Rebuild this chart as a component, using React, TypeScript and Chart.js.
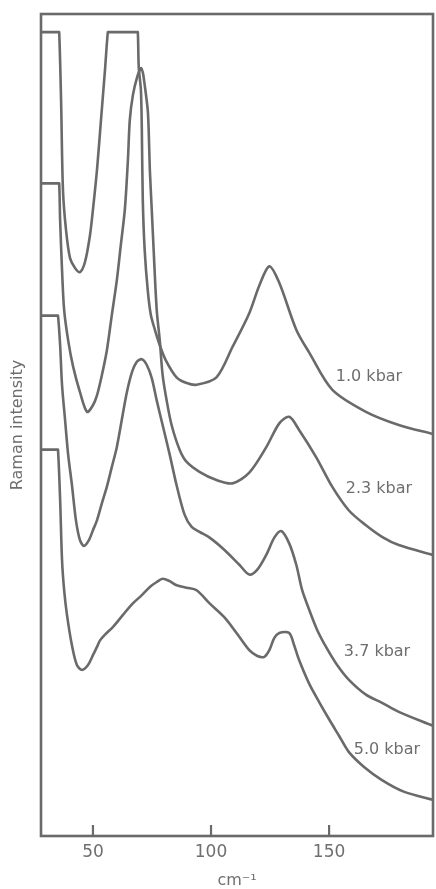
import React, { useEffect, useRef } from "react";
import { Chart, registerables } from "chart.js";

Chart.register(...registerables);

// ---- data (wavenumber in cm^-1, Raman intensity in arbitrary units) ----
const wn1 = [28, 35.3, 35.7, 36.5, 37.3, 38.6, 40.3, 42.4, 44.5, 46.6, 48.7, 50.0, 51.7, 53.4, 55.1, 56.3, 56.7, 68.6, 69.0, 69.4, 70.3, 70.7, 71.1, 71.9, 73.2, 74.5, 76.2, 78.3, 80.8, 85.4, 89.7, 93.9, 102.3, 109.1, 116.2, 120.5, 124.7, 128.9, 136.1, 141.6, 151.3, 165.6, 179.5, 194];
const int1 = [97.8, 97.8, 97.8, 89.5, 78.6, 73.7, 70.3, 69.1, 68.6, 69.8, 73.0, 76.2, 81.0, 87.1, 93.2, 97.8, 97.8, 97.8, 97.8, 93.5, 90.8, 85.9, 77.4, 71.3, 66.4, 63.4, 61.6, 59.7, 57.9, 55.8, 55.1, 54.9, 55.8, 59.5, 63.6, 67.0, 69.3, 67.3, 61.6, 58.8, 54.3, 51.6, 50.0, 48.9];

const wn2 = [28, 35.3, 35.7, 36.1, 36.9, 37.8, 39.5, 41.6, 44.5, 47.5, 50.0, 51.7, 53.8, 55.9, 58.0, 60.1, 61.8, 63.5, 64.8, 65.6, 66.9, 68.6, 70.3, 71.1, 71.9, 73.2, 73.6, 74.1, 74.9, 75.7, 77.0, 78.3, 79.5, 81.2, 83.3, 86.7, 89.7, 95.1, 102.3, 109.1, 116.2, 123.4, 128.9, 133.1, 137.3, 144.5, 151.3, 158.4, 165.6, 172.4, 179.5, 194];
const int2 = [79.4, 79.4, 79.4, 74.9, 68.9, 64.0, 60.3, 57.1, 54.0, 51.6, 52.4, 53.6, 56.1, 59.1, 63.4, 67.6, 71.9, 76.2, 82.2, 87.1, 90.1, 92.2, 93.4, 92.9, 91.4, 88.3, 85.9, 81.0, 76.2, 71.3, 64.0, 60.3, 56.1, 53.0, 50.0, 47.0, 45.5, 44.3, 43.3, 42.9, 44.2, 47.3, 50.2, 51.0, 49.4, 46.1, 42.5, 39.6, 37.8, 36.4, 35.4, 34.2];

const wn3 = [28, 34.8, 35.2, 36.1, 36.9, 38.2, 39.5, 41.1, 42.8, 44.5, 46.2, 48.3, 50.0, 51.7, 53.8, 55.9, 58.0, 60.1, 62.2, 64.3, 66.5, 68.6, 70.7, 72.8, 74.9, 77.0, 79.5, 82.5, 85.4, 88.8, 91.8, 95.1, 99.4, 105.7, 112.0, 116.2, 119.6, 123.4, 126.8, 129.7, 133.1, 136.1, 138.6, 141.6, 144.9, 148.7, 153.4, 158.4, 165.6, 172.4, 179.5, 194];
const int3 = [63.3, 63.3, 63.3, 59.7, 54.9, 50.6, 46.4, 42.7, 38.4, 36.0, 35.3, 36.0, 37.2, 38.4, 40.5, 42.5, 44.9, 47.3, 50.6, 53.9, 56.4, 57.7, 58.0, 57.3, 55.7, 53.0, 50.0, 46.4, 42.7, 39.1, 37.6, 37.0, 36.3, 34.8, 33.0, 31.8, 32.4, 34.2, 36.3, 37.1, 35.6, 33.0, 29.9, 27.5, 25.1, 23.0, 20.8, 19.0, 17.2, 16.2, 15.1, 13.4];

const wn4 = [28, 34.8, 35.2, 36.1, 36.9, 37.8, 39.0, 41.1, 43.2, 45.4, 47.9, 50.0, 51.7, 53.0, 55.1, 58.4, 62.7, 66.9, 70.7, 74.1, 77.0, 79.5, 82.5, 85.4, 89.7, 93.9, 99.4, 105.7, 110.8, 116.2, 119.6, 122.6, 124.7, 126.8, 128.9, 133.1, 135.2, 137.3, 141.6, 145.8, 150.0, 154.2, 158.4, 164.8, 172.4, 181.6, 194];
const int4 = [47.0, 47.0, 47.0, 40.9, 33.6, 29.9, 26.9, 23.2, 20.8, 20.2, 20.8, 22.0, 23.0, 23.8, 24.5, 25.4, 26.9, 28.3, 29.3, 30.3, 30.9, 31.3, 31.0, 30.5, 30.2, 29.9, 28.3, 26.6, 24.7, 22.6, 21.9, 21.8, 22.6, 24.1, 24.7, 24.7, 23.2, 21.4, 18.5, 16.3, 14.2, 12.2, 10.2, 8.4, 6.8, 5.4, 4.4];

const pressures = ["1.0 kbar", "2.3 kbar", "3.7 kbar", "5.0 kbar"];
const labelWn = [166.9, 171.1, 170.3, 174.5];
const labelInt = [55.8, 42.2, 22.4, 10.5];

const xTicks = [50, 100, 150];
const xTitle = "cm\u207B\u00B9";
const yTitle = "Raman intensity";

const INK = "#6a6a6a";
const TEXT = "#6e6e6e";
const FONT = "'DejaVu Sans', sans-serif";

const frameAndLabels = {
  id: "frameAndLabels",
  afterDatasetsDraw(chart: any) {
    const { ctx, chartArea, scales } = chart;
    const xs = scales.x;
    const ys = scales.y;
    ctx.save();
    ctx.strokeStyle = INK;
    ctx.lineWidth = 2.6;
    ctx.strokeRect(chartArea.left, chartArea.top, chartArea.right - chartArea.left, chartArea.bottom - chartArea.top);
    ctx.lineWidth = 2.2;
    xTicks.forEach((v) => {
      const px = xs.getPixelForValue(v);
      ctx.beginPath();
      ctx.moveTo(px, chartArea.bottom);
      ctx.lineTo(px, chartArea.bottom - 11);
      ctx.stroke();
    });
    ctx.fillStyle = TEXT;
    ctx.font = `16px ${FONT}`;
    ctx.textAlign = "center";
    ctx.textBaseline = "middle";
    pressures.forEach((t, i) => {
      ctx.fillText(t, xs.getPixelForValue(labelWn[i]), ys.getPixelForValue(labelInt[i]));
    });
    ctx.restore();
  },
};

function makeSet(wn: number[], inten: number[]) {
  return {
    data: wn.map((x, i) => ({ x, y: inten[i] })),
    borderColor: INK,
    borderWidth: 2.6,
    pointRadius: 0,
    fill: false,
    tension: 0.3,
    borderJoinStyle: "round" as const,
  };
}

export default function App() {
  const ref = useRef<HTMLCanvasElement | null>(null);
  useEffect(() => {
    if (!ref.current) return;
    const chart = new Chart(ref.current, {
      type: "line",
      data: {
        datasets: [makeSet(wn1, int1), makeSet(wn2, int2), makeSet(wn3, int3), makeSet(wn4, int4)],
      },
      options: {
        responsive: false,
        animation: false,
        layout: { padding: { top: 14, right: 3, left: 0, bottom: 0 } },
        plugins: { legend: { display: false }, tooltip: { enabled: false } },
        scales: {
          x: {
            type: "linear",
            min: 28,
            max: 194,
            border: { display: false },
            grid: { display: false, drawTicks: false },
            afterBuildTicks: (scale: any) => {
              scale.ticks = xTicks.map((v) => ({ value: v }));
            },
            afterFit: (scale: any) => {
              scale.height = 53;
            },
            ticks: {
              color: TEXT,
              padding: 6,
              maxRotation: 0,
              font: { family: FONT, size: 17 },
            },
            title: {
              display: true,
              text: xTitle,
              color: TEXT,
              font: { family: FONT, size: 16, lineHeight: 1 },
              padding: { top: 0, bottom: 0 },
            },
          },
          y: {
            type: "linear",
            min: 0,
            max: 100,
            border: { display: false },
            grid: { display: false, drawTicks: false },
            ticks: { display: false },
            afterFit: (scale: any) => {
              scale.width = 41;
            },
            title: {
              display: true,
              text: yTitle,
              color: TEXT,
              font: { family: FONT, size: 16, lineHeight: 1.2 },
              padding: { top: 8, bottom: 0 },
            },
          },
        },
      },
      plugins: [frameAndLabels],
    });
    return () => chart.destroy();
  }, []);
  return (
    <div style={{ position: "fixed", left: 0, top: 0, width: 436, height: 889, background: "#fff" }}>
      <canvas ref={ref} width={436} height={889} />
    </div>
  );
}
